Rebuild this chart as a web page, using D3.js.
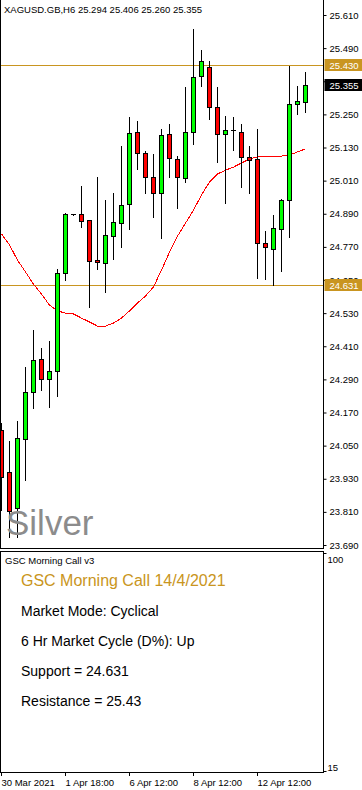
<!DOCTYPE html>
<html>
<head>
<meta charset="utf-8">
<script src="https://cdn.jsdelivr.net/npm/d3@7"></script>
<style>
  body { margin: 0; background: #fff; }
  svg { display: block; font-family: "Liberation Sans", Arial, sans-serif; }
</style>
</head>
<body>
<script>
// XAGUSD.GB H6 candles, oldest first
const opens  = [24.106, 23.954, 23.824, 24.074, 24.244, 24.364, 24.291, 24.320, 24.675, 24.889,
                24.889, 24.867, 24.722, 24.711, 24.809, 24.856, 24.925, 25.186, 25.110, 25.023,
                24.965, 25.179, 25.088, 25.019, 25.186, 25.389, 25.422, 25.277, 25.179, 25.193,
                25.186, 25.096, 25.088, 24.784, 24.762, 24.835, 24.940, 25.288, 25.294];
const highs  = [24.135, 24.070, 24.143, 24.338, 24.472, 24.407, 24.432, 24.693, 24.896, 24.893,
                24.994, 24.871, 25.027, 24.943, 24.969, 25.139, 25.244, 25.230, 25.121, 25.110,
                25.201, 25.219, 25.103, 25.353, 25.563, 25.487, 25.447, 25.353, 25.248, 25.244,
                25.219, 25.139, 25.201, 24.831, 24.889, 24.947, 25.430, 25.355, 25.406];
const lows   = [23.817, 23.719, 23.719, 23.925, 24.186, 24.251, 24.190, 24.230, 24.650, 24.885,
                24.842, 24.552, 24.690, 24.606, 24.726, 24.769, 24.835, 25.052, 24.965, 24.878,
                24.802, 25.023, 24.911, 25.005, 25.143, 25.353, 25.233, 25.077, 24.929, 25.121,
                24.987, 24.965, 24.657, 24.653, 24.631, 24.682, 24.806, 25.251, 25.260];
const closes = [23.936, 23.813, 24.077, 24.244, 24.360, 24.291, 24.320, 24.675, 24.889, 24.889,
                24.864, 24.719, 24.715, 24.813, 24.860, 24.922, 25.182, 25.110, 25.023, 24.965,
                25.175, 25.092, 25.023, 25.186, 25.385, 25.443, 25.277, 25.179, 25.193, 25.193,
                25.096, 25.085, 24.784, 24.769, 24.838, 24.940, 25.288, 25.298, 25.355];
// moving average (red line)
const maValues = [24.817, 24.777, 24.722, 24.679, 24.635, 24.599, 24.559, 24.538, 24.530, 24.527,
                  24.512, 24.498, 24.483, 24.483, 24.494, 24.512, 24.538, 24.567, 24.592, 24.625,
                  24.686, 24.751, 24.809, 24.856, 24.903, 24.958, 25.005, 25.034, 25.048, 25.059,
                  25.074, 25.088, 25.096, 25.096, 25.096, 25.099, 25.103, 25.114, 25.125];

const priceTicks = [25.61, 25.49, 25.37, 25.25, 25.13, 25.01, 24.89, 24.77, 24.65,
                    24.53, 24.41, 24.29, 24.17, 24.05, 23.93, 23.81, 23.69];
const timeTickIndex  = [0, 8, 16, 24, 32];
const timeTickLabels = ['30 Mar 2021', '1 Apr 18:00', '6 Apr 12:00', '8 Apr 12:00', '12 Apr 12:00'];
const oscTicks = [15, 100];

const resistance = 25.43;
const support = 24.631;
const lastPrice = 25.355;
const header = 'XAGUSD.GB,H6  25.294 25.406 25.260 25.355';
const watermark = 'Silver';
const panelTitle = 'GSC Morning Call v3';
const callTitle = 'GSC Morning Call 14/4/2021';
const callLines = ['Market Mode: Cyclical', '6 Hr Market Cycle (D%): Up',
                   'Support = 24.631', 'Resistance = 25.43'];

const gold = '#c99520';
const small = '9.5px';

const width = 362, height = 790;
const plotRight = 323.5;

const svg = d3.select(document.body).append('svg')
  .attr('width', width)
  .attr('height', height);

svg.append('rect').attr('width', width).attr('height', height).attr('fill', '#fff');

const x = d3.scaleLinear().domain([0, 38]).range([1, 305]);
const y = d3.scaleLinear().domain([23.69, 25.61]).range([545, 15]);
const py = v => Math.round(y(v)) + 0.5;

// main panel
const main = svg.append('g').attr('class', 'main');

// support / resistance
main.selectAll('line.level')
  .data([resistance, support])
  .enter().append('line')
  .attr('class', 'level')
  .attr('x1', 0).attr('x2', plotRight)
  .attr('y1', d => py(d)).attr('y2', d => py(d))
  .attr('stroke', gold).attr('stroke-width', 1)
  .attr('shape-rendering', 'crispEdges');

// moving average
const ma = d3.line()
  .x((d, i) => x(i) + 0.5)
  .y(d => y(d));

main.append('path')
  .datum(maValues)
  .attr('d', ma)
  .attr('fill', 'none')
  .attr('stroke', '#ff0000')
  .attr('stroke-width', 1)
  .attr('shape-rendering', 'crispEdges');

const candles = opens.map((o, i) => ({i, o, h: highs[i], l: lows[i], c: closes[i]}));

const cg = main.selectAll('g.candle')
  .data(candles)
  .enter().append('g')
  .attr('class', 'candle')
  .attr('shape-rendering', 'crispEdges');

cg.append('line')
  .attr('x1', d => x(d.i) + 0.5).attr('x2', d => x(d.i) + 0.5)
  .attr('y1', d => py(d.h)).attr('y2', d => py(d.l))
  .attr('stroke', '#000');

cg.filter(d => py(d.o) !== py(d.c)).append('rect')
  .attr('x', d => x(d.i) - 1.5)
  .attr('width', 4)
  .attr('y', d => Math.min(py(d.o), py(d.c)))
  .attr('height', d => Math.abs(py(d.o) - py(d.c)))
  .attr('fill', d => d.c >= d.o ? '#00ff00' : '#ff0000')
  .attr('stroke', '#000');

cg.filter(d => py(d.o) === py(d.c)).append('line')
  .attr('x1', d => x(d.i) - 2).attr('x2', d => x(d.i) + 3)
  .attr('y1', d => py(d.o)).attr('y2', d => py(d.o))
  .attr('stroke', '#000');

// watermark
main.append('text')
  .attr('x', 6).attr('y', 535)
  .attr('font-size', '35px')
  .attr('fill', '#8c8c8c')
  .text(watermark);

// header
svg.append('text')
  .attr('x', 4).attr('y', 13)
  .attr('font-size', small)
  .text(header);

// frame
svg.append('path')
  .attr('d', `M0.5,0 V548.5 H${plotRight} M${plotRight},0 V549`)
  .attr('fill', 'none').attr('stroke', '#000')
  .attr('shape-rendering', 'crispEdges');

// price axis
const yAxis = d3.axisRight(y)
  .tickValues(priceTicks)
  .tickSize(3)
  .tickPadding(3)
  .tickFormat(d3.format('.3f'));

const ya = svg.append('g')
  .attr('transform', `translate(${plotRight},0)`)
  .call(yAxis);
ya.select('.domain').remove();
ya.selectAll('text').attr('font-size', small).attr('font-family', null).attr('fill', '#000');

// price labels
const boxes = [
  {v: resistance, bg: gold},
  {v: lastPrice, bg: '#000'},
  {v: support, bg: gold}
];
const bx = svg.selectAll('g.pbox')
  .data(boxes)
  .enter().append('g')
  .attr('class', 'pbox')
  .attr('transform', d => `translate(${plotRight + 1},${py(d.v)})`);
bx.append('rect')
  .attr('x', 0).attr('y', -6.5)
  .attr('width', 38).attr('height', 12)
  .attr('fill', d => d.bg);
bx.append('text')
  .attr('x', 5).attr('dy', '0.34em')
  .attr('font-size', small)
  .attr('fill', '#fff')
  .text(d => d3.format('.3f')(d.v));

// lower panel
svg.append('rect')
  .attr('x', 0.5).attr('y', 551.5)
  .attr('width', plotRight - 0.5).attr('height', 221)
  .attr('fill', 'none').attr('stroke', '#000')
  .attr('shape-rendering', 'crispEdges');

svg.append('text')
  .attr('x', 5).attr('y', 564)
  .attr('font-size', small)
  .text(panelTitle);

svg.append('text')
  .attr('x', 21).attr('y', 586)
  .attr('font-size', '16px')
  .attr('fill', gold)
  .text(callTitle);

svg.selectAll('text.call')
  .data(callLines)
  .enter().append('text')
  .attr('class', 'call')
  .attr('x', 21)
  .attr('y', (d, i) => 616 + i * 30)
  .attr('font-size', '14px')
  .attr('fill', '#000')
  .text(d => d);

const oscY = d3.scaleLinear().domain([15, 100]).range([771, 553]);
const oa = svg.append('g')
  .attr('transform', `translate(${plotRight},0)`)
  .call(d3.axisRight(oscY).tickValues(oscTicks).tickSize(3).tickPadding(1));
oa.select('.domain').remove();
oa.selectAll('text')
  .attr('font-size', small).attr('font-family', null).attr('fill', '#000')
  .attr('dy', d => d === 100 ? '0.95em' : '-0.1em');

// time axis
const xAxis = d3.axisBottom(x)
  .tickValues(timeTickIndex)
  .tickSize(4)
  .tickPadding(5)
  .tickFormat((d, i) => timeTickLabels[i]);

const xa = svg.append('g')
  .attr('transform', 'translate(0,772)')
  .call(xAxis);
xa.select('.domain').remove();
xa.selectAll('text')
  .attr('font-size', small).attr('font-family', null).attr('fill', '#000')
  .attr('text-anchor', 'start').attr('x', 0).attr('dy', '0.55em');
</script>
</body>
</html>
